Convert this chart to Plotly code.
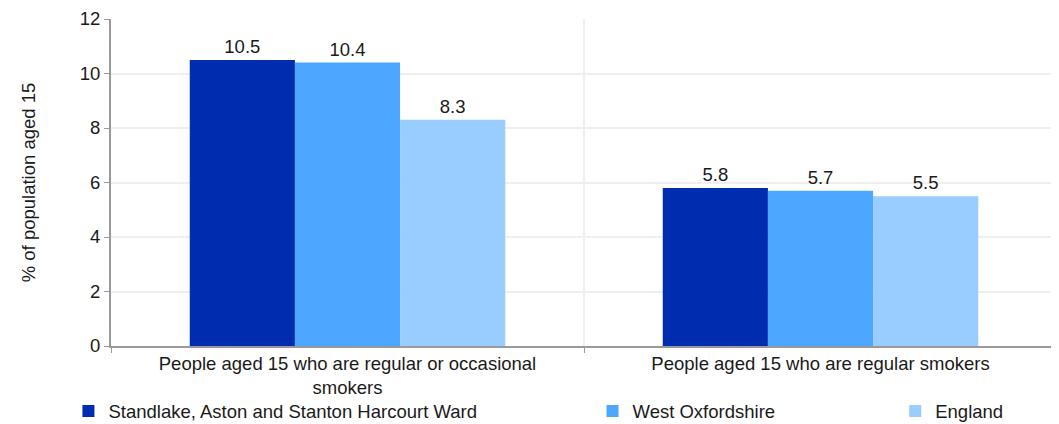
import plotly.graph_objects as go

categories = ["People aged 15 who are regular or occasional<br>smokers",
              "People aged 15 who are regular smokers"]
series_names = ["Standlake, Aston and Stanton Harcourt Ward", "West Oxfordshire", "England"]
ward_vals = [10.5, 5.8]
district_vals = [10.4, 5.7]
england_vals = [8.3, 5.5]
colors = ["#002DB0", "#4DA6FF", "#99CCFF"]
legend_x = [-0.045, 0.509, 0.829]

FS = 18.5
fig = go.Figure()
for i, (name, vals) in enumerate(zip(series_names, [ward_vals, district_vals, england_vals])):
    fig.add_trace(go.Bar(
        x=categories, y=vals, name=name,
        marker=dict(color=colors[i], line=dict(width=0)),
        text=[f"{v:.1f}" for v in vals], textposition="outside",
        textfont=dict(size=FS, color="#1a1a1a"),
        cliponaxis=False, showlegend=True,
        legend="legend" if i == 0 else f"legend{i+1}",
    ))

leg_common = dict(orientation="h", yanchor="middle", y=-0.2, xanchor="left",
                  font=dict(size=FS, color="#1a1a1a", family="Liberation Sans, Arial"),
                  bgcolor="rgba(0,0,0,0)", itemwidth=30, visible=True)
fig.update_layout(
    showlegend=True,
    barmode="group", bargap=0.333, bargroupgap=0,
    width=1051, height=418,
    margin=dict(l=103, r=2, t=11, b=80, autoexpand=False),
    plot_bgcolor="white", paper_bgcolor="white",
    font=dict(family="Liberation Sans, Arial", size=FS, color="#1a1a1a"),
    legend=dict(x=legend_x[0], **leg_common),
    legend2=dict(x=legend_x[1], **leg_common),
    legend3=dict(x=legend_x[2], **leg_common),
    yaxis=dict(range=[0, 12], dtick=2, showgrid=True, gridcolor="#efefef", gridwidth=2,
               showline=True, linecolor="#999999", linewidth=2,
               ticks="outside", ticklen=5, tickcolor="#999999",
               ticklabeloverflow="allow",
               title=dict(text="% of population aged 15", font=dict(size=FS), standoff=39),
               zeroline=False, tickfont=dict(size=FS), automargin=False),
    xaxis=dict(showline=True, linecolor="#999999", linewidth=2,
               tickson="boundaries", ticks="outside", ticklen=5, tickcolor="#999999",
               showgrid=True, gridcolor="#efefef", gridwidth=2,
               tickfont=dict(size=FS), automargin=False),
)
fig.write_html("out.html")
